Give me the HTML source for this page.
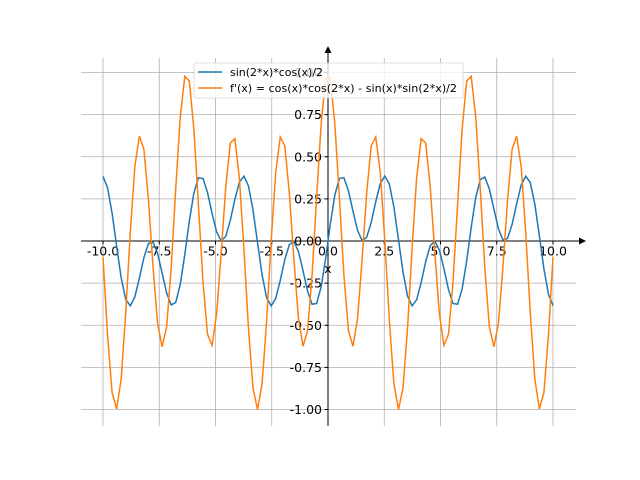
<!DOCTYPE html><html><head><style>body{margin:0;background:#fff}svg{display:block}text{font-family:"DejaVu Sans","Liberation Sans",sans-serif;font-size:12.5px}</style></head><body>
<svg id="s" width="640" height="480" xmlns="http://www.w3.org/2000/svg"></svg>
<script>
const s=document.getElementById('s');
const X=v=>328+v*22.5, Y=v=>241-v*168.5;
let h='';
const xt=[-10,-7.5,-5,-2.5,0,2.5,5,7.5,10], yt=[-1,-0.75,-0.5,-0.25,0,0.25,0.5,0.75,1];
xt.forEach(t=>h+=`<line x1="${X(t)}" y1="58" x2="${X(t)}" y2="426" stroke="#b0b0b0" stroke-width="0.8"/>`);
yt.forEach(t=>h+=`<line x1="81" y1="${Y(t)}" x2="576" y2="${Y(t)}" stroke="#b0b0b0" stroke-width="0.8"/>`);
h+=`<line x1="81" y1="241" x2="580" y2="241" stroke="#000" stroke-width="1"/><polygon points="586,241 579,237.5 579,244.5" fill="#000"/>`;
h+=`<line x1="328" y1="426" x2="328" y2="52" stroke="#000" stroke-width="1"/><polygon points="328,46 324.5,53 331.5,53" fill="#000"/>`;
xt.forEach(t=>{h+=`<line x1="${X(t)}" y1="241" x2="${X(t)}" y2="244.5" stroke="#000"/><text x="${X(t)}" y="255.5" text-anchor="middle">${t.toFixed(1)}</text>`});
yt.forEach(t=>{h+=`<line x1="324.5" y1="${Y(t)}" x2="328" y2="${Y(t)}" stroke="#000"/><text x="322" y="${Y(t)+4.5}" text-anchor="end">${t.toFixed(2)}</text>`});
h+=`<text x="328" y="273" text-anchor="middle">x</text>`;
let a='',b='';
for(let i=0;i<100;i++){const x=-10+20*i/99;
a+=(i?'L':'M')+X(x).toFixed(2)+','+Y(Math.sin(2*x)*Math.cos(x)/2).toFixed(2);
b+=(i?'L':'M')+X(x).toFixed(2)+','+Y(Math.cos(x)*Math.cos(2*x)-Math.sin(x)*Math.sin(2*x)/2).toFixed(2);}
h+=`<path d="${a}" fill="none" stroke="#1f77b4" stroke-width="1.5"/><path d="${b}" fill="none" stroke="#ff7f0e" stroke-width="1.5"/>`;
h+=`<rect x="194" y="63" width="269" height="35" rx="2" fill="#fff" fill-opacity="0.8" stroke="#ccc" stroke-opacity="0.8" stroke-width="0.8"/>`;
h+=`<line x1="198" y1="72" x2="222" y2="72" stroke="#1f77b4" stroke-width="1.5"/><text x="230" y="76" textLength="93" lengthAdjust="spacingAndGlyphs" style="font-size:11px">sin(2*x)*cos(x)/2</text>`;
h+=`<line x1="198" y1="88" x2="222" y2="88" stroke="#ff7f0e" stroke-width="1.5"/><text x="230" y="92" textLength="227" lengthAdjust="spacingAndGlyphs" style="font-size:11px">f'(x) = cos(x)*cos(2*x) - sin(x)*sin(2*x)/2</text>`;
s.innerHTML=h;
</script></body></html>
